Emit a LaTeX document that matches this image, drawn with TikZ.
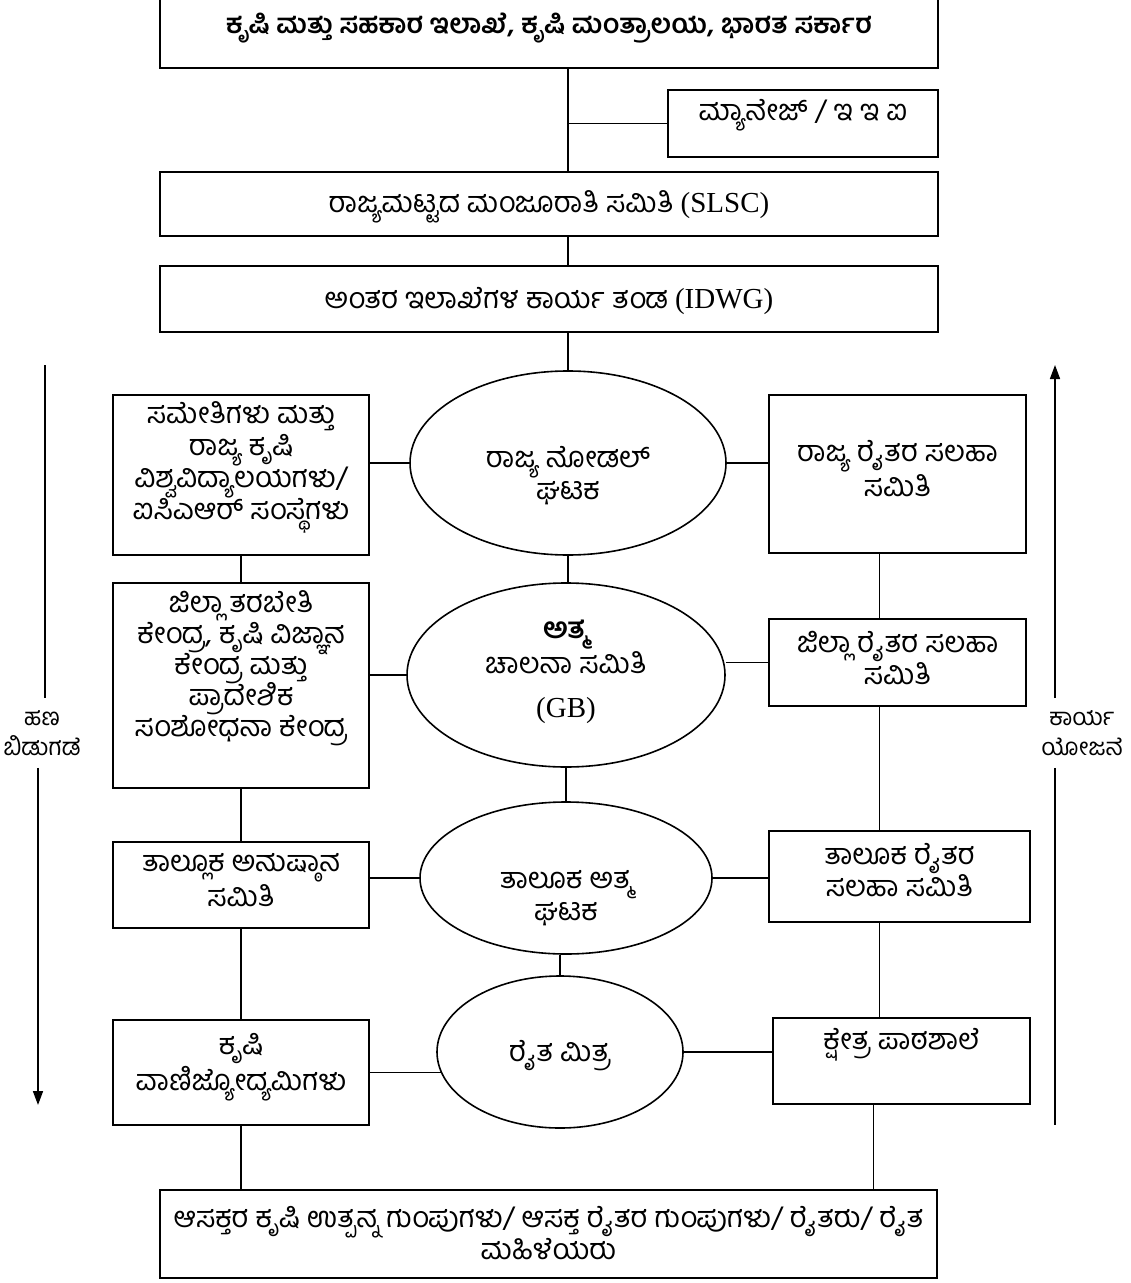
\documentclass[tikz,border=0pt]{standalone}
\usepackage{fontspec}
\setmainfont{Liberation Serif}
\newfontfamily\kannada[Script=Kannada]{Hind Mysuru}
\usepackage{tikz}
\usetikzlibrary{shapes.geometric, arrows.meta, calc, positioning, fit}

\begin{document}
\begin{tikzpicture}[x=0.5pt, y=-0.5pt, arrow/.style={line width=0.8pt,-{Triangle[length=7pt,width=5pt]}}]
	\tikzset{box/.style={draw=black, line width=1pt, inner sep=0pt, align=center, font=\kannada\fontsize{14.5}{16}\selectfont}}
	\tikzset{cell/.style={ellipse, draw=black, line width=0.8pt, inner sep=0pt, align=center, font=\kannada\fontsize{14.5}{16}\selectfont}}
	\tikzset{side/.style={inner sep=6pt, align=center, font=\kannada\fontsize{12}{15}\selectfont}}
	\tikzset{link/.style={line width=0.8pt}}
	\tikzset{lift/.style 2 args={text height=#1pt, text depth=#2pt}}
	\useasboundingbox (0,0) rectangle (1130,1283);
	\fill[white] (0,0) rectangle (1130,1283);

	\node[box, minimum width=389pt, minimum height=43.5pt, lift={11}{2}, font=\kannada\bfseries\fontsize{13.5}{16}\selectfont] at (549,24.5) (dac) {ಕೃಷಿ ಮತ್ತು ಸಹಕಾರ ಇಲಾಖೆ, ಕೃಷಿ ಮಂತ್ರಾಲಯ, ಭಾರತ ಸರ್ಕಾರ};
	\node[box, minimum width=135pt, minimum height=33.5pt, lift={11}{13.5}] at (803,123.5) (manage) {ಮ್ಯಾನೇಜ್ / ಇ ಇ ಐ};
	\node[box, minimum width=389pt, minimum height=32pt, lift={11}{2}] at (549,204) (slsc) {ರಾಜ್ಯಮಟ್ಟದ ಮಂಜೂರಾತಿ ಸಮಿತಿ {\rmfamily (SLSC)}};
	\node[box, minimum width=389pt, minimum height=33pt, lift={11}{2}] at (549,299) (idwg) {ಅಂತರ ಇಲಾಖೆಗಳ ಕಾರ್ಯ ತಂಡ {\rmfamily (IDWG)}};

	\node[cell, minimum width=158pt, minimum height=92pt, lift={40}{4}] at (568,463) (nodal) {ರಾಜ್ಯ ನೋಡಲ್\\ಘಟಕ};
	\node[box, minimum width=128pt, minimum height=80pt, lift={56}{11.5}] at (241,475) (sau) {ಸಮೇತಿಗಳು ಮತ್ತು\\ರಾಜ್ಯ ಕೃಷಿ\\ವಿಶ್ವವಿದ್ಯಾಲಯಗಳು/\\ಐಸಿಎಆರ್ ಸಂಸ್ಥೆಗಳು};
	\node[box, minimum width=128.5pt, minimum height=79pt, lift={30}{8}] at (897.5,474) (sfac) {ರಾಜ್ಯ ರೈತರ ಸಲಹಾ\\ಸಮಿತಿ};

	\node[cell, minimum width=159pt, minimum height=92pt, lift={48}{6}] at (566,675) (gb) {{\bfseries ಅತ್ಮ}\\ಚಾಲನಾ ಸಮಿತಿ\\[6pt]{\rmfamily (GB)}};
	\node[box, minimum width=128pt, minimum height=102.5pt, lift={68}{17}, font={\kannada\fontsize{14.5}{15.5}\selectfont\lineskiplimit-20pt\relax}] at (241,685.5) (dtc) {ಜಿಲ್ಲಾ ತರಬೇತಿ\\ಕೇಂದ್ರ, ಕೃಷಿ ವಿಜ್ಞಾನ\\ಕೇಂದ್ರ ಮತ್ತು\\ಪ್ರಾದೇಶಿಕ\\ಸಂಶೋಧನಾ ಕೇಂದ್ರ};
	\node[box, minimum width=128.5pt, minimum height=43.5pt, lift={30}{8.5}] at (897.5,662.5) (dfac) {ಜಿಲ್ಲಾ ರೈತರ ಸಲಹಾ\\ಸಮಿತಿ};

	\node[cell, minimum width=146pt, minimum height=76pt, lift={46}{4}] at (566,878) (bic) {ತಾಲೂಕ ಅತ್ಮ\\ಘಟಕ};
	\node[box, minimum width=128pt, minimum height=43pt, lift={29}{8}] at (241,885) (bimc) {ತಾಲ್ಲೂಕ ಅನುಷ್ಠಾನ\\ಸಮಿತಿ};
	\node[box, minimum width=130.5pt, minimum height=45.5pt, lift={28}{8}] at (899.5,876.5) (bfac) {ತಾಲೂಕ ರೈತರ\\ಸಲಹಾ ಸಮಿತಿ};

	\node[cell, minimum width=123pt, minimum height=76pt, lift={11}{2}] at (560,1052) (mitra) {ರೈತ ಮಿತ್ರ};
	\node[box, minimum width=128pt, minimum height=52.5pt, lift={26}{8.5}] at (241,1072.5) (agent) {ಕೃಷಿ\\ವಾಣಿಜ್ಯೋದ್ಯಮಿಗಳು};
	\node[box, minimum width=128.5pt, minimum height=43pt, lift={11}{23}] at (901.5,1061) (ffs) {ಕ್ಷೇತ್ರ ಪಾಠಶಾಲೆ};

	\node[box, minimum width=388.5pt, minimum height=44pt, lift={31}{6}] at (548.5,1234) (farmers) {ಆಸಕ್ತರ ಕೃಷಿ ಉತ್ಪನ್ನ ಗುಂಪುಗಳು/ ಆಸಕ್ತ ರೈತರ ಗುಂಪುಗಳು/ ರೈತರು/ ರೈತ\\ಮಹಿಳೆಯರು};

	\node[side] at (42,733) (fund) {ಹಣ\\ಬಿಡುಗಡೆ};
	\node[side] at (1082,733) (plan) {ಕಾರ್ಯ\\ಯೋಜನೆ};
	\coordinate (fundtop) at (45,365);
	\coordinate (fundend) at (38,1105);
	\coordinate (plantop) at (1055,365);
	\coordinate (planend) at (1055,1125);

	\draw [link] (dac.south -| nodal.north) -- (slsc.north -| nodal.north);
	\draw [link] (manage.west -| nodal.north) -- (manage.west);
	\draw [link] (slsc.south -| nodal.north) -- (idwg.north -| nodal.north);
	\draw [link] (idwg.south -| nodal.north) -- (nodal.north);
	\draw [link] (sau.east |- nodal.west) -- (nodal.west);
	\draw [link] (nodal.east) -- (nodal.east -| sfac.west);
	\draw [link] (nodal.south) -- (nodal.south |- gb.north);
	\draw [link] (sau.south) -- (dtc.north);
	\draw [link] ([xshift=-9pt]sfac.south) -- ([xshift=-9pt]sfac.south |- dfac.north);
	\draw [link] (dtc.east |- gb.west) -- (gb.west);
	\draw [link] (gb.east |- dfac.west) -- (dfac.west);
	\draw [link] (gb.south) -- (gb.south |- bic.north);
	\draw [link] (dtc.south) -- (bimc.north);
	\draw [link] ([xshift=-9pt]dfac.south) -- ([xshift=-9pt]dfac.south |- bfac.north);
	\draw [link] (bimc.east |- bic.west) -- (bic.west);
	\draw [link] (bic.east) -- (bic.east -| bfac.west);
	\draw [link] (bic.south -| mitra.north) -- (mitra.north);
	\draw [link] (bimc.south) -- (agent.north);
	\draw [link] ([xshift=-10pt]bfac.south) -- ([xshift=-10pt]bfac.south |- ffs.north);
	\draw [link] (agent.east) -- (agent.east -| mitra.190);
	\draw [link] (mitra.east) -- (mitra.east -| ffs.west);
	\draw [link] (agent.south) -- (agent.south |- farmers.north);
	\draw [link] ([xshift=-14pt]ffs.south) -- ([xshift=-14pt]ffs.south |- farmers.north);

	\draw [link] (fundtop) -- (fundtop |- fund.north);
	\draw [arrow] (fundend |- fund.south) -- (fundend);
	\draw [arrow] (plantop |- plan.north) -- (plantop);
	\draw [link] (planend |- plan.south) -- (planend);
\end{tikzpicture}
\end{document}
